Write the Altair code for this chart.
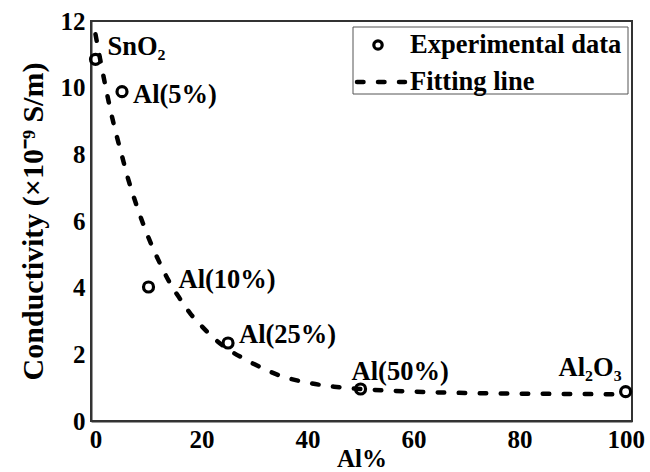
import altair as alt
import pandas as pd

# ---- data ----
exp_x = [0, 5, 10, 25, 50, 100]
exp_y = [10.85, 9.88, 4.02, 2.34, 0.96, 0.88]
exp_labels = ["SnO₂", "Al(5%)", "Al(10%)", "Al(25%)", "Al(50%)", "Al₂O₃"]

fit_x = [0, 1, 2, 3, 4, 5, 6, 8, 10, 12, 14, 16, 18, 20, 22, 25, 28, 30,
         35, 40, 45, 50, 60, 70, 80, 90, 100]
fit_y = [11.6, 10.75, 9.95, 9.2, 8.55, 7.95, 7.35, 6.35, 5.5, 4.78, 4.15,
         3.65, 3.2, 2.85, 2.53, 2.15, 1.87, 1.7, 1.35, 1.15, 1.03, 0.96,
         0.88, 0.84, 0.82, 0.81, 0.80]

x_ticks = [0, 20, 40, 60, 80, 100]
y_ticks = [0, 2, 4, 6, 8, 10, 12]

legend_items = ["Experimental data", "Fitting line"]

FONT = "Liberation Serif"

exp_df = pd.DataFrame({"x": exp_x, "y": exp_y, "label": exp_labels})
fit_df = pd.DataFrame({"x": fit_x, "y": fit_y})

xs = alt.Scale(domain=[-0.85, 101.2], nice=False, zero=False)
ys = alt.Scale(domain=[0, 12], nice=False)

x_enc = alt.X("x:Q", scale=xs,
              axis=alt.Axis(title="Al%", values=x_ticks, format="d",
                            titleFontSize=25, titleBaseline="alphabetic",
                            titleY=45, labelPadding=6))
y_enc = alt.Y("y:Q", scale=ys,
              axis=alt.Axis(title="Conductivity (×10⁻⁹ S/m)", values=y_ticks,
                            format="d", titleFontSize=30, titlePadding=12,
                            labelPadding=6))

points = alt.Chart(exp_df).mark_point(
    shape="circle", size=100, strokeWidth=3.2, color="black", filled=False, opacity=1
).encode(x=x_enc, y=y_enc)

fit = alt.Chart(fit_df).mark_line(
    color="black", strokeWidth=4.5, strokeDash=[6.5, 14.5], strokeCap="round",
    interpolate="monotone"
).encode(x="x:Q", y="y:Q")

# label placement (style only)
offsets = {
    "SnO₂": ("left", 12, -12),
    "Al(5%)": ("left", 11, 3),
    "Al(10%)": ("left", 30, -7),
    "Al(25%)": ("left", 11, -8),
    "Al(50%)": ("left", -9, -17),
    "Al₂O₃": ("right", -4, -24),
}
label_layers = []
for lab in exp_labels:
    al, dx, dy = offsets[lab]
    label_layers.append(
        alt.Chart(exp_df).transform_filter(alt.datum.label == lab).mark_text(
            font=FONT, fontWeight="bold", fontSize=26.5, color="black",
            align=al, baseline="middle", dx=dx, dy=dy
        ).encode(x="x:Q", y="y:Q", text="label:N")
    )

# ---- legend drawn by hand ----
one = pd.DataFrame({"k": [0]})
leg_box = alt.Chart(one).mark_rect(fill="white", stroke="#555", strokeWidth=1).encode(
    x=alt.value(262), x2=alt.value(537), y=alt.value(6), y2=alt.value(73))
leg_pt = alt.Chart(one).mark_point(
    shape="circle", size=70, strokeWidth=3.2, color="black", filled=False, opacity=1
).encode(x=alt.value(287), y=alt.value(24))
leg_line = alt.Chart(one).mark_rule(
    color="black", strokeWidth=4.5, strokeDash=[6.5, 14.5], strokeCap="round"
).encode(x=alt.value(266), x2=alt.value(314), y=alt.value(61))
leg_t1 = alt.Chart(one).mark_text(
    font=FONT, fontWeight="bold", fontSize=26.5, align="left", baseline="middle",
    color="black", text=legend_items[0]
).encode(x=alt.value(319), y=alt.value(24))
leg_t2 = alt.Chart(one).mark_text(
    font=FONT, fontWeight="bold", fontSize=26.5, align="left", baseline="middle",
    color="black", text=legend_items[1]
).encode(x=alt.value(319), y=alt.value(61))

chart = alt.layer(
    points, fit, *label_layers, leg_box, leg_pt, leg_line, leg_t1, leg_t2
).properties(
    width=541, height=400,
    autosize=alt.AutoSizeParams(type="none"),
    padding={"left": 91, "top": 21, "right": 18, "bottom": 51},
    background="white",
).configure_view(
    stroke="#333", strokeWidth=2
).configure_axis(
    labelFont=FONT, labelFontWeight="bold", labelFontSize=25, labelColor="black",
    titleFont=FONT, titleFontWeight="bold", titleColor="black",
    domainColor="#333", domainWidth=2, ticks=False, grid=False,
    labelFlush=False, labelOverlap=False,
)

chart.save("out.html", embed_options={"renderer": "svg", "actions": False})
